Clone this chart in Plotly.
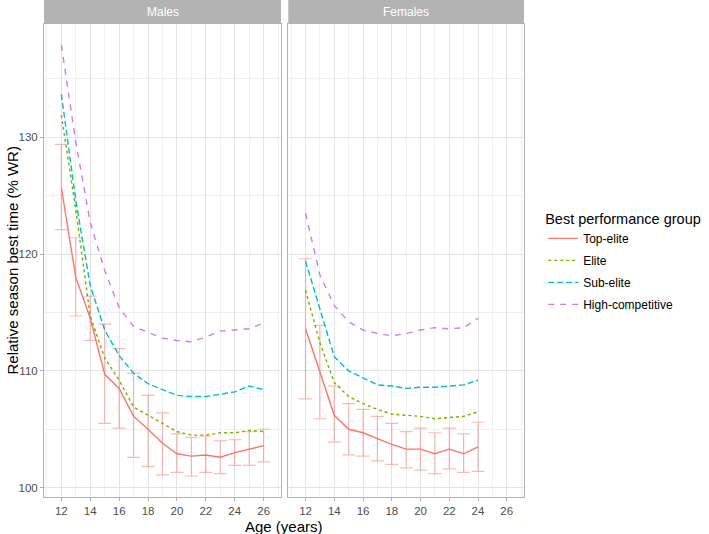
import plotly.graph_objects as go

# ---------------- data ----------------
ages_m = [12, 13, 14, 15, 16, 17, 18, 19, 20, 21, 22, 23, 24, 25, 26]
ages_f = [12, 13, 14, 15, 16, 17, 18, 19, 20, 21, 22, 23, 24]

groups = ["Top-elite", "Elite", "Sub-elite", "High-competitive"]

top_m = [125.7, 118.0, 114.5, 109.7, 108.5, 106.1, 105.0, 103.8, 102.9, 102.7, 102.8, 102.6, 103.0, 103.3, 103.6]
top_m_hi = [129.4, 121.4, 116.4, 114.0, 111.9, 109.8, 107.9, 106.4, 104.6, 104.3, 104.4, 104.0, 104.1, 104.8, 105.0]
top_m_lo = [122.1, 114.7, 112.6, 105.5, 105.1, 102.6, 101.8, 101.1, 101.3, 101.0, 101.3, 101.2, 101.9, 101.9, 102.2]
elite_m = [131.9, 123.8, 114.7, 111.1, 109.2, 106.9, 106.2, 105.5, 104.8, 104.5, 104.5, 104.7, 104.7, 104.9, 104.8]
sub_m = [133.7, 124.6, 117.3, 113.5, 111.3, 109.8, 108.9, 108.4, 107.9, 107.8, 107.8, 108.0, 108.2, 108.7, 108.4]
high_m = [137.9, 129.6, 122.7, 118.6, 115.4, 113.8, 113.3, 112.8, 112.6, 112.5, 112.9, 113.4, 113.5, 113.6, 114.1]

top_f = [113.6, 109.8, 106.2, 105.0, 104.7, 104.2, 103.7, 103.3, 103.3, 102.9, 103.3, 102.9, 103.5]
top_f_hi = [119.6, 113.9, 108.7, 107.2, 106.7, 106.1, 105.5, 104.8, 105.1, 104.7, 105.1, 104.6, 105.6]
top_f_lo = [107.6, 105.9, 103.9, 102.8, 102.7, 102.3, 102.0, 101.7, 101.5, 101.2, 101.6, 101.3, 101.4]
elite_f = [116.9, 112.4, 109.0, 107.8, 107.2, 106.7, 106.3, 106.2, 106.1, 105.9, 106.0, 106.1, 106.5]
sub_f = [119.4, 115.2, 111.2, 110.0, 109.4, 108.8, 108.7, 108.5, 108.6, 108.6, 108.7, 108.8, 109.2]
high_f = [123.5, 118.2, 115.6, 114.2, 113.5, 113.2, 113.0, 113.2, 113.5, 113.7, 113.6, 113.7, 114.5]

x_ticks = [12, 14, 16, 18, 20, 22, 24, 26]
y_ticks = [100, 110, 120, 130]
panel_titles = ["Males", "Females"]

# ---------------- styles ----------------
colors = ["#F8766D", "#7CAE00", "#00BFC4", "#C77CFF"]
dashes = ["solid", "3px,3px", "6px,3px", "6px,6px"]
err_color = "rgba(248,118,109,0.5)"
FONT = "Liberation Sans, Arial, sans-serif"

fig = go.Figure()

panels = [
    ("x", "y", ages_m, [top_m, elite_m, sub_m, high_m], top_m_hi, top_m_lo, True),
    ("x2", "y2", ages_f, [top_f, elite_f, sub_f, high_f], top_f_hi, top_f_lo, False),
]

for xa, ya, ages, series, hi, lo, show in panels:
    # error bars for Top-elite
    fig.add_trace(go.Scatter(
        x=ages, y=series[0], xaxis=xa, yaxis=ya, mode="markers",
        marker=dict(size=1, color="rgba(0,0,0,0)"),
        error_y=dict(type="data", symmetric=False,
                     array=[h - v for h, v in zip(hi, series[0])],
                     arrayminus=[v - l for v, l in zip(series[0], lo)],
                     color=err_color, thickness=1.2, width=6.5),
        showlegend=False, hoverinfo="skip"))
    for i, (name, vals) in enumerate(zip(groups, series)):
        fig.add_trace(go.Scatter(
            x=ages, y=vals, xaxis=xa, yaxis=ya, mode="lines", name=name,
            legendgroup=name, showlegend=show,
            line=dict(color=colors[i], dash=dashes[i], width=1.4)))

W, H = 709, 534
ml, mr, mt, mb = 44, 185, 0, 37
pw = W - ml - mr
ph = H - mt - mb
strip_h = 24
ytop = (ph - strip_h) / ph
dom1 = [0.0, (281 - ml) / pw]
dom2 = [(288.3 - ml) / pw, 1.0]

axis_common = dict(
    showline=True, mirror=True, linecolor="#B3B3B3", linewidth=1,
    showgrid=True, gridcolor="#E3E3E3", gridwidth=1,
    ticks="outside", ticklen=3, tickcolor="#B3B3B3", tickwidth=1,
    tickfont=dict(family=FONT, size=11.5, color="#4D4D4D"),
    zeroline=False, automargin=False,
)
xcommon = dict(axis_common, range=[10.8, 27.2], tickvals=x_ticks,
               minor=dict(dtick=1, tick0=11, showgrid=True, gridcolor="#EFEFEF", gridwidth=1, ticks=""))
ycommon = dict(axis_common, range=[99.2, 139.7], tickvals=y_ticks,
               minor=dict(dtick=5, tick0=100, showgrid=True, gridcolor="#EFEFEF", gridwidth=1, ticks=""))

fig.update_layout(
    width=W, height=H,
    margin=dict(l=ml, r=mr, t=mt, b=mb, autoexpand=False),
    paper_bgcolor="white", plot_bgcolor="white",
    font=dict(family=FONT, color="black"),
    xaxis=dict(xcommon, domain=dom1, anchor="y"),
    xaxis2=dict(xcommon, domain=dom2, anchor="y2"),
    yaxis=dict(ycommon, domain=[0, ytop], anchor="x"),
    yaxis2=dict(ycommon, domain=[0, ytop], anchor="x2", matches="y", showticklabels=False, ticks=""),
    legend=dict(x=1.04, xanchor="left", y=1 - 205 / ph, yanchor="top",
                title=dict(text="Best performance group", font=dict(family=FONT, size=14.5, color="black")),
                font=dict(family=FONT, size=12, color="black"),
                bgcolor="rgba(0,0,0,0)", tracegroupgap=3, itemwidth=30),
    showlegend=True,
)

shapes = []
annotations = []
for dom, title in zip([dom1, dom2], panel_titles):
    shapes.append(dict(type="rect", xref="paper", yref="paper",
                       x0=dom[0], x1=dom[1], y0=ytop, y1=1.0,
                       fillcolor="#B3B3B3", line=dict(width=0), layer="below"))
    annotations.append(dict(text=title, xref="paper", yref="paper",
                            x=(dom[0] + dom[1]) / 2, y=(ytop + 1) / 2,
                            xanchor="center", yanchor="middle", showarrow=False,
                            font=dict(family=FONT, size=12, color="white")))

annotations.append(dict(text="Age (years)", xref="paper", yref="paper",
                        x=0.5, y=-(526 - ph) / ph, xanchor="center", yanchor="middle",
                        showarrow=False, font=dict(family=FONT, size=15, color="black")))
annotations.append(dict(text="Relative season best time (% WR)", xref="paper", yref="paper",
                        x=(12 - ml) / pw, y=ytop / 2, xanchor="center", yanchor="middle",
                        textangle=-90, showarrow=False,
                        font=dict(family=FONT, size=15, color="black")))

fig.update_layout(shapes=shapes, annotations=annotations)

fig.write_html("out.html", config={"displayModeBar": False},
               post_script="document.body.style.margin='0px';document.body.style.overflow='hidden';")
